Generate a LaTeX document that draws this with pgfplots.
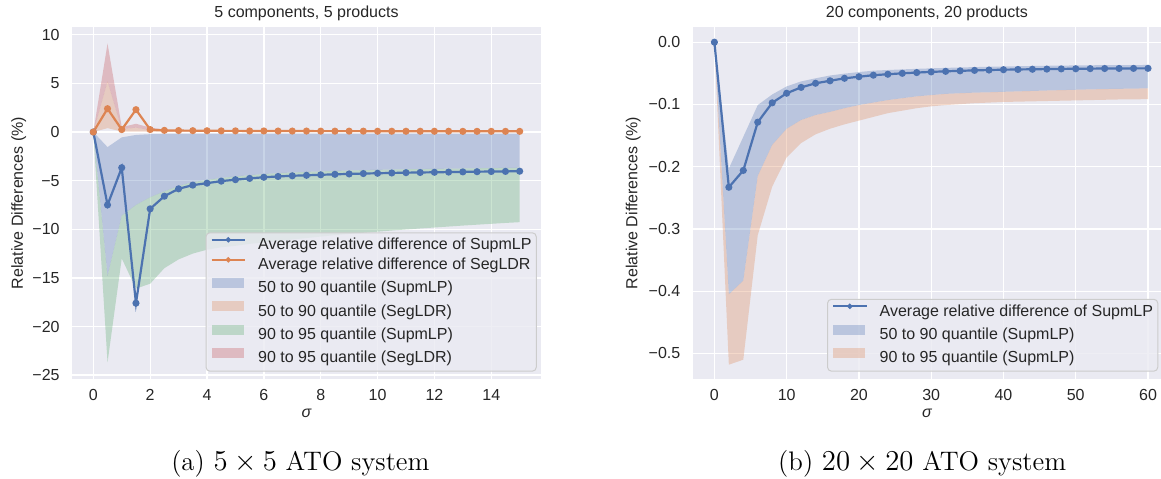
\documentclass[border=0pt]{standalone}
\usepackage{fontspec}
\usepackage{pgfplots}
\usepackage{pgfplotstable}
\pgfplotsset{compat=1.18}
\usepgfplotslibrary{fillbetween}
\newfontfamily\arialfont{Liberation Sans}

\definecolor{sbBlue}{HTML}{4C72B0}
\definecolor{sbOrange}{HTML}{DD8452}
\definecolor{sbGreen}{HTML}{55A868}
\definecolor{sbRed}{HTML}{C44E52}
\definecolor{sbBg}{HTML}{EAEAF2}
\definecolor{sbText}{HTML}{262626}
\definecolor{sbFrame}{HTML}{CCCCCC}

% x avgS avgL sUp sMid sLow lLow lMid lUp
\pgfplotstableread{
x    avgS   avgL  sUp    sMid   sLow   lLow  lMid  lUp
0    0      0     0      0      0      0     0     0
0.5  -7.5   2.4   -1.55  -14.8  -23.7  0.4   5.2   9.1
1    -3.67  0.25  -0.55  -8.6   -13.0  0.05  0.3   0.5
1.5  -17.6  2.3   -0.3   -7.5   -16.1  0.05  0.45  0.85
2    -7.9   0.25  -0.22  -6.7   -15.6  0.02  0.2   0.45
2.5  -6.6   0.17  -0.2   -6.1   -14.0  0.02  0.1   0.25
3    -5.84  0.15  -0.2   -5.55  -13.1  0.02  0.08  0.15
3.5  -5.46  0.14  -0.2   -5.15  -12.5  0.02  0.07  0.12
4    -5.26  0.13  -0.2   -4.92  -12.1  0.02  0.06  0.1
4.5  -5.05  0.12  -0.2   -4.72  -11.85 0.02  0.05  0.09
5    -4.9   0.12  -0.2   -4.57  -11.7  0.02  0.05  0.08
5.5  -4.77  0.11  -0.2   -4.44  -11.5  0.02  0.05  0.08
6    -4.65  0.11  -0.2   -4.32  -11.35 0.02  0.04  0.07
6.5  -4.57  0.1   -0.2   -4.23  -11.2  0.02  0.04  0.07
7    -4.5   0.1   -0.2   -4.16  -11.05 0.02  0.04  0.07
7.5  -4.45  0.1   -0.2   -4.1   -10.9  0.02  0.04  0.06
8    -4.4   0.09  -0.2   -4.05  -10.75 0.02  0.04  0.06
8.5  -4.35  0.09  -0.2   -4.0   -10.6  0.02  0.04  0.06
9    -4.31  0.09  -0.2   -3.96  -10.48 0.02  0.04  0.06
9.5  -4.27  0.09  -0.19  -3.92  -10.36 0.02  0.04  0.06
10   -4.24  0.08  -0.19  -3.89  -10.25 0.02  0.04  0.06
10.5 -4.21  0.08  -0.19  -3.86  -10.13 0.02  0.04  0.06
11   -4.18  0.08  -0.19  -3.83  -10.02 0.02  0.04  0.06
11.5 -4.16  0.08  -0.19  -3.81  -9.92  0.02  0.04  0.06
12   -4.14  0.08  -0.19  -3.79  -9.82  0.02  0.04  0.06
12.5 -4.12  0.08  -0.18  -3.77  -9.72  0.02  0.04  0.06
13   -4.10  0.07  -0.18  -3.75  -9.62  0.02  0.04  0.06
13.5 -4.08  0.07  -0.18  -3.73  -9.53  0.02  0.04  0.06
14   -4.06  0.07  -0.18  -3.71  -9.44  0.02  0.04  0.06
14.5 -4.05  0.07  -0.18  -3.69  -9.35  0.02  0.04  0.06
15   -4.03  0.07  -0.18  -3.67  -9.27  0.02  0.04  0.06
}\smalltab

% x avg up mid low
\pgfplotstableread{
x   avg      up       mid      low
0   0        0        0        0
2   -0.233   -0.203   -0.405   -0.518
4   -0.206   -0.152   -0.383   -0.51
6   -0.1285  -0.101   -0.215   -0.31
8   -0.0974  -0.084   -0.165   -0.232
10  -0.082   -0.071   -0.139   -0.185
12  -0.0726  -0.063   -0.125   -0.162
14  -0.066   -0.058   -0.117   -0.148
16  -0.062   -0.0535  -0.112   -0.139
18  -0.058   -0.0505  -0.106   -0.132
20  -0.0555  -0.048   -0.101   -0.126
22  -0.053   -0.0457  -0.097   -0.12
24  -0.0515  -0.0447  -0.093   -0.114
26  -0.050   -0.0437  -0.09    -0.11
28  -0.0488  -0.0428  -0.087   -0.106
30  -0.0477  -0.042   -0.085   -0.103
32  -0.0468  -0.0413  -0.083   -0.101
34  -0.046   -0.0406  -0.082   -0.0995
36  -0.0453  -0.04    -0.081   -0.098
38  -0.0447  -0.0395  -0.0805  -0.097
40  -0.0442  -0.039   -0.0797  -0.096
42  -0.0438  -0.0386  -0.079   -0.0955
44  -0.0435  -0.0382  -0.0783  -0.095
46  -0.0432  -0.0379  -0.0776  -0.0945
48  -0.0429  -0.0376  -0.077   -0.094
50  -0.0427  -0.0373  -0.0764  -0.0935
52  -0.0425  -0.0371  -0.0758  -0.093
54  -0.0423  -0.0369  -0.0753  -0.0925
56  -0.0422  -0.0368  -0.0749  -0.092
58  -0.0421  -0.0367  -0.0745  -0.0918
60  -0.042   -0.0366  -0.0742  -0.0915
}\bigtab

\tikzset{
  sbtitle/.style={anchor=base, inner sep=0pt, text=sbText,
    font=\arialfont\fontsize{8}{9.6}\selectfont},
  sbcaption/.style={anchor=base, inner sep=0pt, font=\fontsize{13.4}{16}\selectfont},
}

\pgfplotsset{
  sbaxis/.style={
    scale only axis,
    axis background/.style={fill=sbBg},
    axis line style={draw=none},
    major tick length=0pt,
    grid=major,
    major grid style={draw=white, line width=0.65pt},
    tick label style={font=\arialfont\fontsize{8}{9.6}\selectfont, text=sbText, inner sep=0pt},
    label style={font=\arialfont\fontsize{8}{9.6}\selectfont, text=sbText, inner sep=0pt},
    xticklabel style={anchor=base, yshift=-10.5pt},
    yticklabel style={anchor=east, xshift=-6pt},
    xlabel style={at={(axis description cs:0.5,-0.108)}, anchor=base},
    xlabel={\itshape σ},
    ylabel={Relative Differences (\%)},
    legend cell align=left,
    legend style={draw=sbFrame, fill=sbBg, fill opacity=0.8, text opacity=1,
      rounded corners=2pt, line width=0.5pt,
      inner xsep=2.4pt, inner ysep=2.6pt,
      font=\arialfont\fontsize{8}{9.6}\selectfont, text=sbText,
      /tikz/row sep=2.5pt, /tikz/column sep=6.15pt,
      nodes={inner sep=0pt, text height=5.75pt, text depth=1.75pt}},
  },
  sbline/.style={color=#1, line width=1.1pt, mark=*, mark size=1.2pt,
    legend image code/.code={\draw[##1, sharp corners, line width=0.8pt,
      mark size=0.9pt, mark repeat=2, mark phase=2, fill opacity=1]
      plot coordinates {(0pt,2.87pt) (8.35pt,2.87pt) (16.7pt,2.87pt)};}},
  sbband/.style={draw=none, fill=#1, fill opacity=0.3,
    legend image code/.code={\fill[##1, sharp corners]
      (0pt,0.37pt) rectangle (16pt,5.37pt);}},
}

\begin{document}
\begin{tikzpicture}

\begin{axis}[sbaxis,
  name=axA,
  at={(36pt,-189.5pt)}, anchor=south west,
  width=234.5pt, height=176pt,
  xmin=-0.75, xmax=15.75, ymin=-25.4, ymax=10.8,
  xtick={0,2,4,6,8,10,12,14},
  xticklabels={0,2,4,6,8,10,12,14},
  ytick={-25,-20,-15,-10,-5,0,5,10},
  yticklabels={−25,−20,−15,−10,−5,0,5,10},
  ylabel style={at={(axis description cs:-0.1045,0.5)}, anchor=base},
  legend style={at={(axis description cs:0.991,0.0207)}, anchor=south east},
  extra description/.code={
    \node[sbtitle] at (0.5,1.027) {5 components, 5 products};
    \node[sbcaption] at (0.487,-0.2585) {(a) $5\times 5$ ATO system};},
]
\addlegendimage{sbline=sbBlue}
\addlegendentry{Average relative difference of SupmLP}
\addlegendimage{sbline=sbOrange}
\addlegendentry{Average relative difference of SegLDR}
\addlegendimage{sbband=sbBlue}
\addlegendentry{50 to 90 quantile (SupmLP)}
\addlegendimage{sbband=sbOrange}
\addlegendentry{50 to 90 quantile (SegLDR)}
\addlegendimage{sbband=sbGreen}
\addlegendentry{90 to 95 quantile (SupmLP)}
\addlegendimage{sbband=sbRed}
\addlegendentry{90 to 95 quantile (SegLDR)}

\addplot[draw=none, forget plot, name path=sUp] table[x=x, y=sUp] {\smalltab};
\addplot[draw=none, forget plot, name path=sMid] table[x=x, y=sMid] {\smalltab};
\addplot[draw=none, forget plot, name path=sLow] table[x=x, y=sLow] {\smalltab};
\addplot[draw=none, forget plot, name path=lLow] table[x=x, y=lLow] {\smalltab};
\addplot[draw=none, forget plot, name path=lMid] table[x=x, y=lMid] {\smalltab};
\addplot[draw=none, forget plot, name path=lUp] table[x=x, y=lUp] {\smalltab};

\addplot[sbband=sbBlue, forget plot] fill between[of=sUp and sMid];
\addplot[sbband=sbOrange, forget plot] fill between[of=lLow and lMid];
\addplot[sbband=sbGreen, forget plot] fill between[of=sMid and sLow];
\addplot[sbband=sbRed, forget plot] fill between[of=lMid and lUp];

\addplot[sbline=sbBlue, forget plot] table[x=x, y=avgS] {\smalltab};
\addplot[sbline=sbOrange, forget plot] table[x=x, y=avgL] {\smalltab};
\end{axis}

\begin{axis}[sbaxis,
  name=axB,
  at={(346.35pt,-189.65pt)}, anchor=south west,
  width=234.15pt, height=176.15pt,
  xmin=-3, xmax=61.8, ymin=-0.5415, ymax=0.0244,
  xtick={0,10,20,30,40,50,60},
  xticklabels={0,10,20,30,40,50,60},
  ytick={-0.5,-0.4,-0.3,-0.2,-0.1,0},
  yticklabels={−0.5,−0.4,−0.3,−0.2,−0.1,0.0},
  ylabel style={at={(axis description cs:-0.118,0.5)}, anchor=base},
  legend style={at={(axis description cs:0.9942,0.0216)}, anchor=south east},
  extra description/.code={
    \node[sbtitle] at (0.5,1.027) {20 components, 20 products};
    \node[sbcaption] at (0.49,-0.2585) {(b) $20\times 20$ ATO system};},
]
\addlegendimage{sbline=sbBlue}
\addlegendentry{Average relative difference of SupmLP}
\addlegendimage{sbband=sbBlue}
\addlegendentry{50 to 90 quantile (SupmLP)}
\addlegendimage{sbband=sbOrange}
\addlegendentry{90 to 95 quantile (SupmLP)}

\addplot[draw=none, forget plot, name path=up] table[x=x, y=up] {\bigtab};
\addplot[draw=none, forget plot, name path=mid] table[x=x, y=mid] {\bigtab};
\addplot[draw=none, forget plot, name path=low] table[x=x, y=low] {\bigtab};

\addplot[sbband=sbBlue, forget plot] fill between[of=up and mid];
\addplot[sbband=sbOrange, forget plot] fill between[of=mid and low];

\addplot[sbline=sbBlue, forget plot] table[x=x, y=avg] {\bigtab};
\end{axis}

\pgfresetboundingbox
\path[use as bounding box] (0pt,0pt) rectangle (580.5pt,-239pt);
\end{tikzpicture}
\end{document}
